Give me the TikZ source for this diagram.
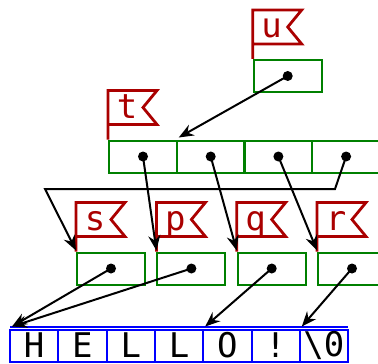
\documentclass[tikz,border=0pt]{standalone}
\usepackage{fontspec}
\newfontfamily\monofont{DejaVu Sans Mono}
\usetikzlibrary{arrows.meta}
\definecolor{flagred}{RGB}{170,0,0}
\definecolor{boxgreen}{RGB}{0,128,0}
\definecolor{charblue}{RGB}{0,0,255}
\newcommand{\Flag}[2]{%
\draw[FlagStyle] (#1.north west) -- ++(0,-49) -- ++(49,0) -- ++(-14,17) -- ++(14,17) -- ++(-49,0);
\node[FlagText] at ([shift = {(19,-21)}]#1.north west) {#2};}

\begin{document}
\begin{tikzpicture}[x = 0.5pt, y = -0.5pt]
\tikzstyle{PtrBox}=[draw = boxgreen, line width = 1pt,
                    minimum width = 34pt, minimum height = 16pt,
                    inner sep = 0pt]
\tikzstyle{CharBox}=[draw = charblue, line width = 1pt,
                     minimum width = 24.15pt, minimum height = 16pt,
                     inner sep = 0pt, font = \monofont\fontsize{17pt}{17pt}\selectfont]
\tikzstyle{FlagStyle}=[draw = flagred, line width = 1.4pt, line join = miter]
\tikzstyle{FlagText}=[anchor = base, inner sep = 0pt, text = flagred,
                      font = \monofont\fontsize{17pt}{17pt}\selectfont]
\tikzstyle{Ptr}=[-{Stealth[length = 7.5pt, width = 6pt, inset = 2.5pt]}, line width = 1pt]
\clip (0,0) rectangle (378,363);
\useasboundingbox (0,0) rectangle (378,363);
% pointer boxes
\node[PtrBox] (u) at (287.7, 76) {};
\node[PtrBox] (t0) at (143, 156.5) {};
\node[PtrBox] (t1) at (210.7, 156.5) {};
\node[PtrBox] (t2) at (278.4, 156.5) {};
\node[PtrBox] (t3) at (346.1, 156.5) {};
\node[PtrBox] (s) at (111, 268.5) {};
\node[PtrBox] (p) at (191.4, 268.5) {};
\node[PtrBox] (q) at (271.7, 268.5) {};
\node[PtrBox] (r) at (352, 268.5) {};
% the string
\draw[draw = charblue, line width = 0.8pt] (10, 327) -- (348, 327);
\node[CharBox] (c0) at (34.15, 345.5) {H};
\node[CharBox] (c1) at (82.45, 345.5) {E};
\node[CharBox] (c2) at (130.75, 345.5) {L};
\node[CharBox] (c3) at (179.05, 345.5) {L};
\node[CharBox] (c4) at (227.35, 345.5) {O};
\node[CharBox] (c5) at (275.65, 345.5) {!};
\node[CharBox] (c6) at (323.95, 345.5) {\textbackslash 0};
% flags
\Flag{u}{u}
\Flag{t0}{t}
\Flag{s}{s}
\Flag{p}{p}
\Flag{q}{q}
\Flag{r}{r}
% dots
\foreach \b in {u, t0, t1, t2, t3, s, p, q, r}
  \fill (\b.center) circle (2.5pt);
% pointers
\coordinate (bendR) at (335, 189);
\coordinate (bendL) at (45, 189);
\draw[Ptr] (u.center) -- ([shift = {(3,-2)}]t1.north west);
\draw[Ptr] (t0.center) -- ([shift = {(0,-1)}]p.north west);
\draw[Ptr] (t1.center) -- ([shift = {(0,-1)}]q.north west);
\draw[Ptr] (t2.center) -- ([shift = {(0,-1)}]r.north west);
\draw[Ptr] (t3.center) -- (bendR) -- (bendL) -- ([shift = {(0,-1)}]s.north west);
\draw[Ptr] (s.center) -- ([shift = {(3,-2)}]c0.north west);
\draw[Ptr] (p.center) -- ([shift = {(3,-2)}]c0.north west);
\draw[Ptr] (q.center) -- ([shift = {(3,-2)}]c4.north west);
\draw[Ptr] (r.center) -- ([shift = {(3,-2)}]c6.north west);
\end{tikzpicture}
\end{document}
